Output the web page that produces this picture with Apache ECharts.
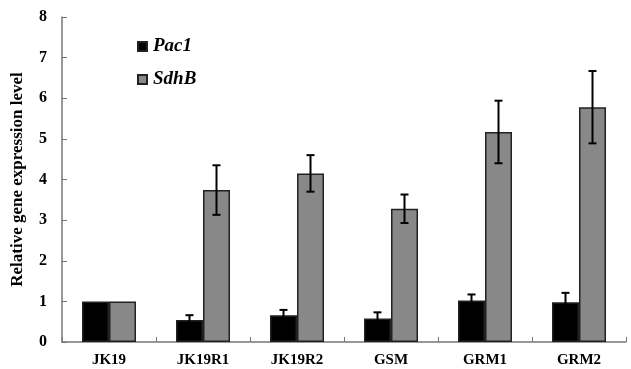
<!DOCTYPE html>
<html>
<head>
<meta charset="utf-8">
<script src="https://cdn.jsdelivr.net/npm/echarts@6/dist/echarts.min.js"></script>
<style>html,body{margin:0;padding:0;background:#fff}#c{width:631px;height:369px}</style>
</head>
<body>
<div id="c"></div>
<script>
const categories = ['JK19', 'JK19R1', 'JK19R2', 'GSM', 'GRM1', 'GRM2'];
const pac1 = [1.0, 0.54, 0.66, 0.58, 1.02, 0.98];
const pac1Err = [0, 0.12, 0.13, 0.15, 0.15, 0.23];
const sdhB = [1.0, 3.74, 4.15, 3.28, 5.17, 5.78];
const sdhBErr = [0, 0.61, 0.45, 0.35, 0.77, 0.89];
const yTicks = [0, 1, 2, 3, 4, 5, 6, 7, 8];

const FONT = '"Liberation Serif", "DejaVu Serif", serif';
const BAR_W = 27;

function errSeries(name, vals, errs, offset) {
  return {
    type: 'custom',
    name: name + ' err',
    z: 10,
    data: vals.map((v, i) => [i, v, errs[i]]),
    renderItem: function (params, api) {
      const i = api.value(0), v = api.value(1), e = api.value(2);
      if (!e) return null;
      const top = api.coord([i, v + e]);
      const bot = api.coord([i, v - e]);
      const x = top[0] + offset;
      const cap = 4;
      const st = { stroke: '#000', lineWidth: 2 };
      return {
        type: 'group',
        children: [
          { type: 'line', shape: { x1: x, y1: top[1], x2: x, y2: bot[1] }, style: st },
          { type: 'line', shape: { x1: x - cap, y1: top[1], x2: x + cap, y2: top[1] }, style: st },
          { type: 'line', shape: { x1: x - cap, y1: bot[1], x2: x + cap, y2: bot[1] }, style: st }
        ]
      };
    }
  };
}

const chart = echarts.init(document.getElementById('c'));
chart.setOption({
  animation: false,
  backgroundColor: '#fff',
  grid: { left: 62, right: 5, top: 17, bottom: 27, containLabel: false },
  legend: {
    data: ['Pac1', 'SdhB'],
    orient: 'vertical',
    left: 132,
    top: 32,
    itemWidth: 9,
    itemHeight: 9,
    itemGap: 14,
    icon: 'rect',
    textStyle: { fontFamily: FONT, fontSize: 19, fontWeight: 'bold', fontStyle: 'italic', color: '#000', padding: [0, 0, 0, 1] }
  },
  xAxis: {
    type: 'category',
    data: categories,
    axisLine: { lineStyle: { color: '#777', width: 1.5 } },
    axisTick: { show: true, inside: true, length: 5, alignWithLabel: false, lineStyle: { color: '#777' } },
    axisLabel: { fontFamily: FONT, fontSize: 15, fontWeight: 'bold', color: '#000', margin: 11 }
  },
  yAxis: {
    type: 'value',
    min: 0, max: 8, interval: 1,
    name: 'Relative gene expression level',
    nameLocation: 'middle',
    nameGap: 36,
    nameTextStyle: { fontFamily: FONT, fontSize: 17, fontWeight: 'bold', color: '#000' },
    axisLine: { show: true, lineStyle: { color: '#777', width: 1.5 } },
    axisTick: { show: true, inside: true, length: 5, lineStyle: { color: '#777' } },
    splitLine: { show: false },
    axisLabel: { fontFamily: FONT, fontSize: 16, fontWeight: 'bold', color: '#000', margin: 15,
      formatter: v => yTicks.includes(v) ? String(v) : '' }
  },
  series: [
    { name: 'Pac1', type: 'bar', data: pac1, barWidth: BAR_W, barGap: '0%',
      itemStyle: { color: '#000', borderColor: '#222', borderWidth: 1.5 } },
    { name: 'SdhB', type: 'bar', data: sdhB, barWidth: BAR_W, barGap: '0%',
      itemStyle: { color: '#888', borderColor: '#222', borderWidth: 1.5 } },
    errSeries('Pac1', pac1, pac1Err, -BAR_W / 2),
    errSeries('SdhB', sdhB, sdhBErr, BAR_W / 2)
  ]
});
</script>
</body>
</html>
